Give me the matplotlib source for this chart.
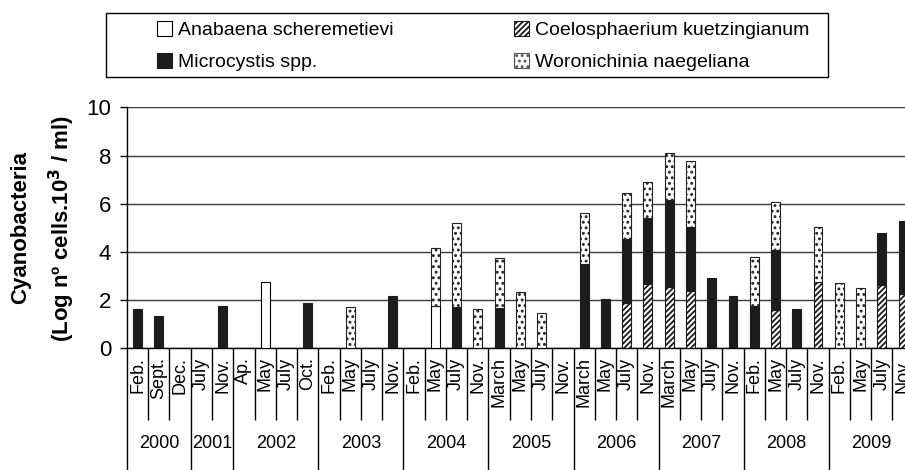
import matplotlib
matplotlib.use('Agg')
import matplotlib.pyplot as plt
import numpy as np
from matplotlib.patches import Patch, Rectangle
import matplotlib.transforms as mtransforms

plt.rcParams['font.family'] = ['Liberation Sans', 'DejaVu Sans']
plt.rcParams['hatch.linewidth'] = 1.3

years = ['2000', '2001', '2002', '2003', '2004', '2005', '2006', '2007', '2008', '2009']
months = [
    ['Feb.', 'Sept.', 'Dec.'],
    ['July', 'Nov.'],
    ['Ap.', 'May', 'July', 'Oct.'],
    ['Feb.', 'May', 'July', 'Nov.'],
    ['Feb.', 'May', 'July', 'Nov.'],
    ['March', 'May', 'July', 'Nov.'],
    ['March', 'May', 'July', 'Nov.'],
    ['March', 'May', 'July', 'Nov.'],
    ['Feb.', 'May', 'July', 'Nov.'],
    ['Feb.', 'May', 'July', 'Nov.'],
]

# stacked segment heights (bottom -> top: Anabaena, Coelosphaerium, Microcystis, Woronichinia)
anabaena = [0, 0, 0, 0, 0, 0, 2.77, 0, 0, 0, 0, 0, 0, 0, 1.75, 0, 0, 0, 0, 0, 0,
            0, 0, 0, 0, 0, 0, 0, 0, 0, 0, 0, 0, 0, 0, 0, 0]
coelo = [0, 0, 0, 0, 0, 0, 0, 0, 0, 0, 0, 0, 0, 0, 0, 0, 0, 0, 0, 0, 0,
         0, 0, 1.87, 2.67, 2.56, 2.39, 0, 0, 0, 1.60, 0, 2.75, 0, 0, 2.61, 2.25]
micro = [1.63, 1.34, 0, 0, 1.74, 0, 0, 0, 1.88, 0, 0, 0, 2.17, 0, 0, 1.70, 0,
         1.66, 0, 0, 0, 3.51, 2.03, 2.65, 2.75, 3.61, 2.66, 2.93, 2.17,
         1.76, 2.49, 1.62, 0, 0, 0, 2.19, 3.05]
woron = [0, 0, 0, 0, 0, 0, 0, 0, 0, 0, 1.71, 0, 0, 0, 2.40, 3.51, 1.64,
         2.09, 2.34, 1.48, 0, 2.09, 0, 1.91, 1.49, 1.92, 2.74, 0, 0,
         2.04, 1.97, 0, 2.28, 2.70, 2.49, 0, 0]

labels = ['Anabaena scheremetievi', 'Coelosphaerium kuetzingianum',
          'Microcystis spp.', 'Woronichinia naegeliana']

W, H = 905, 470
fig = plt.figure(figsize=(W / 100, H / 100), dpi=100)
ax = fig.add_axes([0.1403, 0.2589, 0.8597, 0.5128])

n = len(micro)
x = np.arange(n)
w = 0.42
series = [
    (anabaena, dict(facecolor='white', edgecolor='black', hatch=None)),
    (coelo, dict(facecolor='white', edgecolor='#1a1a1a', hatch='//////')),
    (micro, dict(facecolor='#1c1c1c', edgecolor='#1c1c1c', hatch=None)),
    (woron, dict(facecolor='white', edgecolor='#222222', hatch='...')),
]
bottom = np.zeros(n)
for vals, st in series:
    v = np.array(vals, dtype=float)
    m = v > 0
    ax.bar(x[m], v[m], width=w, bottom=bottom[m], linewidth=0.8, zorder=3, **st)
    bottom = bottom + v

ax.set_ylim(0, 10)
ax.set_xlim(-0.5, 36.09)
ax.set_yticks([0, 2, 4, 6, 8, 10])
ax.tick_params(axis='y', direction='out', length=5.4, width=1, labelsize=16, pad=6)
ax.set_xticks([])
ax.grid(axis='y', color='#3a3a3a', linewidth=1.0, zorder=0)
for s in ['top', 'right']:
    ax.spines[s].set_visible(False)
ax.spines['left'].set_linewidth(1.0)
ax.spines['bottom'].set_linewidth(1.0)

trans = mtransforms.blended_transform_factory(ax.transData, ax.transAxes)

# category separators and labels
starts = np.cumsum([0] + [len(mm) for mm in months])
year_bounds = set(starts.tolist())
for b in range(0, n):
    xb = b - 0.5
    ylow = -0.53 if b in year_bounds else -0.297
    ax.plot([xb, xb], [0, ylow], transform=trans, color='black', lw=1.0,
            clip_on=False, solid_capstyle='butt')

idx = 0
for yi, (yr, mm) in enumerate(zip(years, months)):
    for lab in mm:
        ax.text(idx, -0.038, lab, transform=trans, rotation=90, ha='center',
                va='top', fontsize=13)
        idx += 1
    center = (starts[yi] + starts[yi + 1] - 1) / 2
    ax.text(center, -0.393, yr, transform=trans, ha='center', va='center',
            fontsize=13)

# y label (two lines)
fig.text(21 / W, 1 - 228 / H, 'Cyanobacteria', rotation=90, ha='center', va='center',
         fontsize=16, fontweight='bold')
fig.text(62 / W, 1 - 228 / H, '(Log nº cells.10$^\\mathbf{3}$ / ml)', rotation=90,
         ha='center', va='center', fontsize=16, fontweight='bold')

# ---- legend (two columns, framed box) ----
lsize = 14
em = lsize * 100 / 72.0
hA = Patch(facecolor='white', edgecolor='black', linewidth=0.8)
hM = Patch(facecolor='#1c1c1c', edgecolor='#1c1c1c', linewidth=0.8)
hC = Patch(facecolor='white', edgecolor='#1a1a1a', hatch='//////', linewidth=0.8)
hW = Patch(facecolor='white', edgecolor='#555555', hatch='...', linewidth=0.8)

row_pitch = 32.0
mid_y = 46.0
col_x = [157, 514]
groups = [([hA, hM], [labels[0], labels[2]]), ([hC, hW], [labels[1], labels[3]])]


def make_legends(lab_sp):
    legs = []
    for cx, (hh, ll) in zip(col_x, groups):
        lg = fig.legend(hh, ll, loc='center left', bbox_to_anchor=(cx / W, 1 - mid_y / H),
                        fontsize=lsize, frameon=False, borderpad=0.0, borderaxespad=0.0,
                        handlelength=15.0 / em, handleheight=15.0 / em,
                        handletextpad=6.0 / em, labelspacing=lab_sp)
        legs.append(lg)
    return legs


lab_sp = 0.4
legs = make_legends(lab_sp)
fig.canvas.draw()
t = legs[0].get_texts()
c0 = t[0].get_window_extent().y0 + t[0].get_window_extent().height / 2
c1 = t[1].get_window_extent().y0 + t[1].get_window_extent().height / 2
pitch = c0 - c1
for lg in legs:
    lg.remove()
lab_sp = max(0.0, lab_sp + (row_pitch - pitch) / em)
legs = make_legends(lab_sp)

fig.patches.append(Rectangle((106 / W, 1 - 76.7 / H), (828 - 106) / W, 64 / H,
                             transform=fig.transFigure, fill=False,
                             edgecolor='black', linewidth=1.0))

fig.savefig('out.png', dpi=100)
